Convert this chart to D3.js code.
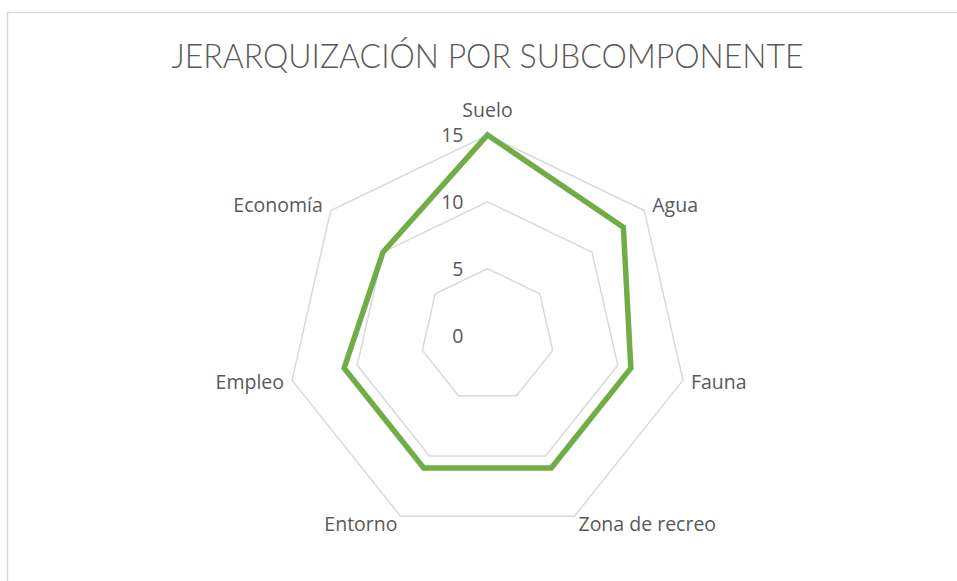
<!DOCTYPE html>
<html lang="es">
<head>
<meta charset="UTF-8">
<title>Jerarquización por subcomponente</title>
<script src="https://d3js.org/d3.v7.min.js"></script>
<style>
  html, body { margin: 0; padding: 0; background: #fff; }
  svg { display: block; }
  text { font-family: "Open Sans", Lato, sans-serif; fill: #595959; }
</style>
</head>
<body>
<svg id="chart" width="957" height="581"></svg>
<script>
// data
var categories = ["Suelo", "Agua", "Fauna", "Zona de recreo", "Entorno", "Empleo", "Economía"];
var values = [15, 13, 11, 11, 11, 11, 10];
var ticks = [0, 5, 10, 15];
var title = "JERARQUIZACIÓN POR SUBCOMPONENTE";

var width = 957, height = 581;
var cx = 487.5, cy = 335.5, R = 200.5;
var fs = "19.5px";

var svg = d3.select("#chart");

// chart border (runs off the right and bottom edge like the original)
svg.append("rect")
  .attr("x", 7.5).attr("y", 12.5)
  .attr("width", 960).attr("height", 600)
  .attr("fill", "none")
  .attr("stroke", "#d9d9d9")
  .attr("stroke-width", 1.5);

svg.append("text")
  .attr("x", cx).attr("y", 68)
  .attr("text-anchor", "middle")
  .attr("textLength", 632)
  .attr("lengthAdjust", "spacingAndGlyphs")
  .style("font-family", "Lato, sans-serif")
  .style("font-size", "33px")
  .style("font-weight", 300)
  .text(title);

var r = d3.scaleLinear().domain([0, 15]).range([0, R]);
var angle = d3.scalePoint().domain(categories).range([0, 2 * Math.PI * (1 - 1 / categories.length)]);

function pt(cat, v) {
  var a = angle(cat);
  return [cx + r(v) * Math.sin(a), cy - r(v) * Math.cos(a)];
}

// grid polygons
svg.append("g").selectAll("path")
  .data(ticks.filter(function(t) { return t > 0; }))
  .enter().append("path")
  .attr("d", function(t) {
    return d3.line()(categories.map(function(c) { return pt(c, t); })) + "Z";
  })
  .attr("fill", "none")
  .attr("stroke", "#d9d9d9")
  .attr("stroke-width", 1.5);

// value axis labels
svg.append("g").selectAll("text")
  .data(ticks)
  .enter().append("text")
  .attr("x", cx - 24)
  .attr("y", function(t) { return cy - r(t); })
  .attr("dy", "0.36em")
  .attr("text-anchor", "end")
  .style("font-size", fs)
  .text(function(t) { return t; });

// series
svg.append("path")
  .attr("d", d3.line()(categories.map(function(c, i) { return pt(c, values[i]); })) + "Z")
  .attr("fill", "none")
  .attr("stroke", "#70ad47")
  .attr("stroke-width", 5.5)
  .attr("stroke-linejoin", "miter");

// category labels
svg.append("g").selectAll("text")
  .data(categories)
  .enter().append("text")
  .each(function(c) {
    var a = angle(c), s = Math.sin(a), co = Math.cos(a);
    var p = pt(c, 15);
    var t = d3.select(this).style("font-size", fs).text(c);
    if (Math.abs(s) < 0.1) {
      t.attr("x", p[0]).attr("y", p[1] - 18).attr("text-anchor", "middle");
    } else if (co < -0.5) {
      t.attr("x", p[0] + (s > 0 ? 4 : -3)).attr("y", p[1] + 15)
        .attr("text-anchor", s > 0 ? "start" : "end");
    } else {
      t.attr("x", p[0] + (s > 0 ? 8 : -8))
        .attr("y", p[1] + (co > 0.5 ? -6 : 2))
        .attr("dy", "0.36em")
        .attr("text-anchor", s > 0 ? "start" : "end");
    }
  });
</script>
</body>
</html>
